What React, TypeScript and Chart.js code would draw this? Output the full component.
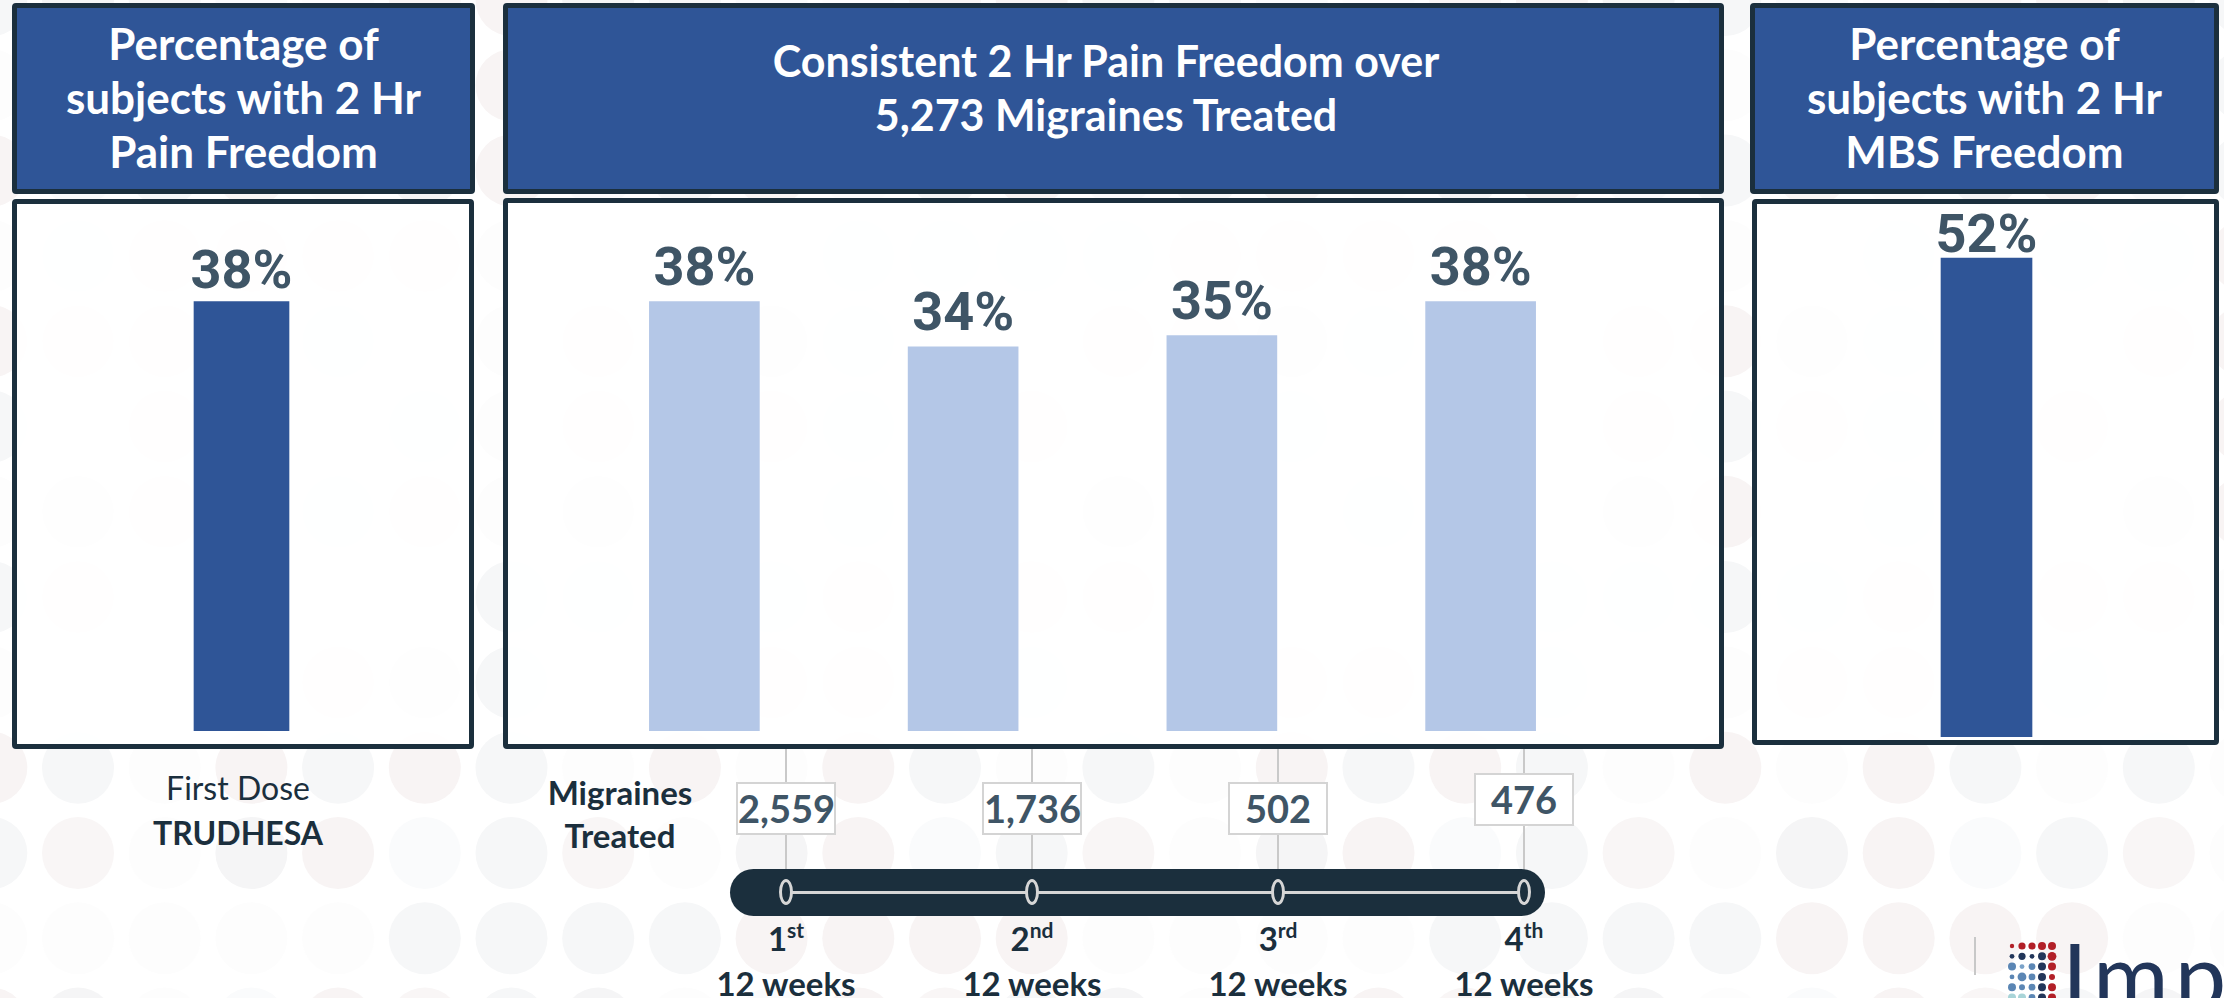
import React, { useEffect, useRef } from 'react';
import { Chart, registerables } from 'chart.js';

Chart.register(...registerables);

// ---------- data ----------
const firstDoseCategories = ['First Dose TRUDHESA'];
const firstDoseValues = [38];

const periodCategories = ['1st 12 weeks', '2nd 12 weeks', '3rd 12 weeks', '4th 12 weeks'];
const periodValues = [38, 34, 35, 38];

const mbsCategories = ['2 Hr MBS Freedom'];
const mbsValues = [52];

const migrainesTreated = [2559, 1736, 502, 476];
const periodOrdinals = ['1', '2', '3', '4'];
const periodSuffixes = ['st', 'nd', 'rd', 'th'];
const periodLabel = '12 weeks';

const leftHeader = ['Percentage of', 'subjects with 2 Hr', 'Pain Freedom'];
const middleHeader = ['Consistent 2 Hr Pain Freedom over', '5,273 Migraines Treated'];
const rightHeader = ['Percentage of', 'subjects with 2 Hr', 'MBS Freedom'];

// ---------- styles ----------
const DARK = '#1b2f3d';
const BLUE = '#2f5597';
const LIGHT_BLUE = '#b4c7e7';
const LABEL = '#3f5566';

function makeLabelPlugin(gap: number) {
  return {
    id: 'valueLabels',
    afterDatasetsDraw(chart: any) {
      const ctx = chart.ctx;
      const meta = chart.getDatasetMeta(0);
      const data = chart.data.datasets[0].data as number[];
      ctx.save();
      ctx.font = 'bold 54px Roboto';
      ctx.fillStyle = LABEL;
      ctx.textAlign = 'center';
      ctx.textBaseline = 'alphabetic';
      meta.data.forEach((bar: any, i: number) => {
        ctx.fillText(`${data[i]}%`, bar.x, bar.y - gap);
      });
      ctx.restore();
    },
  };
}

type BarProps = {
  labels: string[];
  values: number[];
  color: string;
  yMax: number;
  thickness: number;
  gap: number;
  left: number;
  top: number;
  width: number;
  height: number;
};

function BarPanel(p: BarProps) {
  const ref = useRef<HTMLCanvasElement | null>(null);
  useEffect(() => {
    if (!ref.current) return;
    const chart = new Chart(ref.current, {
      type: 'bar',
      data: {
        labels: p.labels,
        datasets: [
          {
            data: p.values,
            backgroundColor: p.color,
            borderWidth: 0,
            barThickness: p.thickness,
          },
        ],
      },
      options: {
        responsive: false,
        animation: false,
        layout: { padding: 0 },
        plugins: { legend: { display: false }, tooltip: { enabled: false } },
        scales: {
          x: { display: false },
          y: { display: false, min: 0, max: p.yMax },
        },
      },
      plugins: [makeLabelPlugin(p.gap)],
    });
    return () => chart.destroy();
  }, []);
  return (
    <canvas
      ref={ref}
      width={p.width}
      height={p.height}
      style={{ position: 'absolute', left: p.left, top: p.top, width: p.width, height: p.height }}
    />
  );
}

function Background() {
  const circles: JSX.Element[] = [];
  const palette = ['#f5f5f6', '#f8f4f4', '#fafbfc', '#f6f7f8', '#f9f6f6', '#fdfdfd'];
  for (let ix = -1; ix < 27; ix++) {
    for (let iy = -2; iy < 11; iy++) {
      const cx = 78 + 86.7 * ix;
      const cy = 853 - 85.3 * iy;
      const idx = (((ix * 7 + iy * 5 + ((ix * iy) % 4) + 40) % palette.length) + palette.length) % palette.length;
      circles.push(<circle key={`${ix}_${iy}`} cx={cx} cy={cy} r={36} fill={palette[idx]} />);
    }
  }
  return (
    <svg width={2224} height={998} style={{ position: 'absolute', left: 0, top: 0 }}>
      {circles}
    </svg>
  );
}

function Box(props: { left: number; top: number; width: number; height: number; fill: string }) {
  return (
    <div
      style={{
        position: 'absolute',
        left: props.left,
        top: props.top,
        width: props.width,
        height: props.height,
        boxSizing: 'border-box',
        border: `5px solid ${DARK}`,
        borderRadius: 4,
        background: props.fill,
      }}
    />
  );
}

function HeaderText(props: { lines: string[]; left: number; width: number; top: number; size: number }) {
  return (
    <div
      style={{
        position: 'absolute',
        left: props.left,
        width: props.width,
        top: props.top,
        textAlign: 'center',
        color: '#ffffff',
        fontFamily: 'Lato, sans-serif',
        fontWeight: 700,
        fontSize: props.size,
        lineHeight: '54px',
        whiteSpace: 'nowrap',
      }}
    >
      {props.lines.map((l, i) => (
        <div key={i}>{l}</div>
      ))}
    </div>
  );
}

export default function App() {
  const tlX = (i: number) => 786 + i * 246;
  const boxTop = (i: number) => (i === 3 ? 773 : 782);
  const logoDots: { c: string; r: number }[][] = [
    [{ c: '#b22028', r: 2.2 }, { c: '#b22028', r: 3.6 }, { c: '#b22028', r: 3.6 }, { c: '#b22028', r: 4 }, { c: '#b22028', r: 4 }],
    [{ c: '#22365a', r: 2.4 }, { c: '#22365a', r: 3.6 }, { c: '#22365a', r: 2.4 }, { c: '#22365a', r: 4 }, { c: '#b22028', r: 4.4 }],
    [{ c: '#5b86b4', r: 4 }, { c: '#7aa2c8', r: 2.4 }, { c: '#5b86b4', r: 3.4 }, { c: '#22365a', r: 4 }, { c: '#b22028', r: 4 }],
    [{ c: '#5b86b4', r: 2.4 }, { c: '#5b86b4', r: 4.4 }, { c: '#5b86b4', r: 3.4 }, { c: '#22365a', r: 4 }, { c: '#b22028', r: 3 }],
    [{ c: '#5b86b4', r: 4 }, { c: '#5b86b4', r: 3 }, { c: '#5b86b4', r: 3.4 }, { c: '#22365a', r: 4 }, { c: '#b22028', r: 4 }],
    [{ c: '#a8d4d8', r: 4 }, { c: '#a8d4d8', r: 4 }, { c: '#5b86b4', r: 3.4 }, { c: '#22365a', r: 4 }, { c: '#b22028', r: 4 }],
  ];

  return (
    <div
      style={{
        position: 'absolute',
        left: 0,
        top: 0,
        width: 2224,
        height: 998,
        overflow: 'hidden',
        background: '#ffffff',
      }}
    >
      <Background />

      {/* Headers */}
      <Box left={12} top={3} width={463} height={191} fill={BLUE} />
      <Box left={503} top={3} width={1221} height={191} fill={BLUE} />
      <Box left={1750} top={3} width={469} height={191} fill={BLUE} />
      <HeaderText lines={leftHeader} left={12} width={463} top={16} size={44} />
      <HeaderText lines={middleHeader} left={503} width={1206} top={34} size={43} />
      <HeaderText lines={rightHeader} left={1750} width={469} top={16} size={44} />

      {/* Chart boxes */}
      <Box left={12} top={199} width={462} height={550} fill="rgba(255,255,255,0.9)" />
      <Box left={503} top={198} width={1221} height={551} fill="rgba(255,255,255,0.9)" />
      <Box left={1752} top={199} width={467} height={546} fill="rgba(255,255,255,0.9)" />

      {/* Charts */}
      <BarPanel
        labels={firstDoseCategories}
        values={firstDoseValues}
        color={BLUE}
        yMax={47}
        thickness={95}
        gap={14}
        left={12}
        top={200}
        width={459}
        height={531}
      />
      <BarPanel
        labels={periodCategories}
        values={periodValues}
        color={LIGHT_BLUE}
        yMax={47}
        thickness={110}
        gap={17}
        left={575}
        top={200}
        width={1035}
        height={531}
      />
      <BarPanel
        labels={mbsCategories}
        values={mbsValues}
        color={BLUE}
        yMax={58.3}
        thickness={91}
        gap={6}
        left={1754}
        top={200}
        width={465}
        height={537}
      />

      {/* First dose label */}
      <div
        style={{
          position: 'absolute',
          left: 88,
          width: 300,
          top: 765,
          textAlign: 'center',
          color: DARK,
          fontFamily: 'Lato, sans-serif',
          fontSize: 32,
          lineHeight: '45px',
        }}
      >
        <div>First Dose</div>
        <div style={{ fontWeight: 700 }}>TRUDHESA</div>
      </div>

      {/* Migraines treated label */}
      <div
        style={{
          position: 'absolute',
          left: 470,
          width: 300,
          top: 771,
          textAlign: 'center',
          color: DARK,
          fontFamily: 'Lato, sans-serif',
          fontWeight: 700,
          fontSize: 33,
          lineHeight: '43px',
        }}
      >
        <div>Migraines</div>
        <div>Treated</div>
      </div>

      {/* Timeline connectors */}
      {migrainesTreated.map((_, i) => (
        <div
          key={`ln${i}`}
          style={{ position: 'absolute', left: tlX(i) - 1, top: 749, width: 2, height: 143, background: '#c9c9c9' }}
        />
      ))}

      {/* Timeline pill */}
      <div
        style={{
          position: 'absolute',
          left: 730,
          top: 869,
          width: 815,
          height: 47,
          borderRadius: 24,
          background: DARK,
        }}
      />
      <div
        style={{
          position: 'absolute',
          left: tlX(0),
          top: 891,
          width: tlX(3) - tlX(0),
          height: 3,
          background: '#d6d6d6',
        }}
      />
      {migrainesTreated.map((_, i) => (
        <div
          key={`el${i}`}
          style={{
            position: 'absolute',
            left: tlX(i) - 7,
            top: 879,
            width: 14,
            height: 26,
            boxSizing: 'border-box',
            border: '3px solid #d6d6d6',
            borderRadius: '50%',
            background: DARK,
          }}
        />
      ))}

      {/* Count boxes */}
      {migrainesTreated.map((v, i) => (
        <div
          key={`bx${i}`}
          style={{
            position: 'absolute',
            left: tlX(i) - 50,
            top: boxTop(i),
            width: 100,
            height: 53,
            boxSizing: 'border-box',
            border: '2px solid #d4d4d4',
            background: '#ffffff',
            color: LABEL,
            fontFamily: 'Lato, sans-serif',
            fontWeight: 700,
            fontSize: 38,
            lineHeight: '49px',
            textAlign: 'center',
          }}
        >
          {v.toLocaleString('en-US')}
        </div>
      ))}

      {/* Period labels */}
      {periodOrdinals.map((o, i) => (
        <div
          key={`pl${i}`}
          style={{
            position: 'absolute',
            left: tlX(i) - 100,
            width: 200,
            top: 918,
            textAlign: 'center',
            color: DARK,
            fontFamily: 'Lato, sans-serif',
            fontWeight: 700,
            fontSize: 33,
            lineHeight: '40px',
          }}
        >
          <div>
            {o}
            <span style={{ fontSize: 21, position: 'relative', top: -13 }}>{periodSuffixes[i]}</span>
          </div>
          <div>{periodLabel}</div>
        </div>
      ))}

      {/* Logo */}
      <div style={{ position: 'absolute', left: 1974, top: 937, width: 2, height: 38, background: '#c8c8c8' }} />
      <svg width={60} height={70} style={{ position: 'absolute', left: 2000, top: 935 }}>
        {logoDots.map((row, r) =>
          row.map((d, c) => <circle key={`${r}_${c}`} cx={12 + c * 10} cy={11 + r * 10.3} r={d.r} fill={d.c} />)
        )}
      </svg>
      <div
        style={{
          position: 'absolute',
          left: 2062,
          top: 919,
          color: '#22365a',
          fontFamily: 'Lato, sans-serif',
          fontWeight: 400,
          fontSize: 92,
          lineHeight: '110px',
          letterSpacing: 6,
          whiteSpace: 'nowrap',
        }}
      >
        Impel
      </div>
    </div>
  );
}
